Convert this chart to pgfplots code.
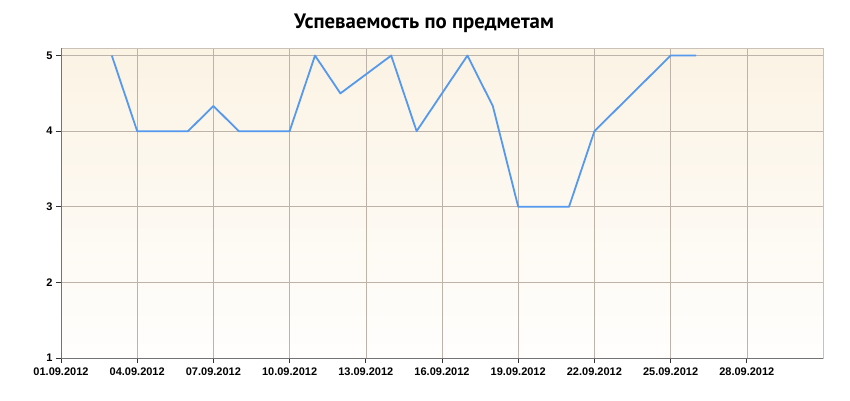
\documentclass[border=0pt]{standalone}
\usepackage{pgfplots}
\pgfplotsset{compat=1.18}
\usepackage{fontspec}
\setmainfont{Liberation Sans}
\newfontfamily\titlefont{PT Sans}
\definecolor{bgtop}{HTML}{FBF3E4}
\definecolor{bgbot}{HTML}{FFFEFD}
\definecolor{gridc}{HTML}{BDB3A8}
\definecolor{linec}{HTML}{5599EE}
\begin{document}
\begin{tikzpicture}[x=1pt,y=1pt]
\path (0,0) rectangle (850,400);
\node[font=\titlefont\bfseries\fontsize{20.8}{23}\selectfont] at (424,377) {Успеваемость по предметам};
\begin{axis}[
  at={(61pt,42pt)}, anchor=south west,
  scale only axis, width=762pt, height=310pt,
  xmin=1, xmax=31, ymin=1, ymax=5.1,
  xtick={1,4,7,10,13,16,19,22,25,28},
  xticklabels={01.09.2012,04.09.2012,07.09.2012,10.09.2012,13.09.2012,16.09.2012,19.09.2012,22.09.2012,25.09.2012,28.09.2012},
  ytick={1,2,3,4,5},
  xtick pos=bottom, ytick pos=left,
  tick align=outside, major tick length=5pt,
  tick style={draw=black!80, line width=0.8pt},
  grid=major, major grid style={draw=gridc, line width=0.6pt},
  axis line style={draw=gridc!80, line width=0.8pt},
  axis background/.style={top color=bgtop, bottom color=bgbot},
  ticklabel style={font=\bfseries\fontsize{11}{13}\selectfont},
  /pgf/number format/assume math mode=true,
  xticklabel style={yshift=-1pt},
]
\addplot[linec, line width=1.8pt, line join=round] coordinates {
(3,5) (4,4) (6,4) (7,4.333) (8,4) (10,4) (11,5) (12,4.5) (14,5) (15,4) (17,5) (18,4.333) (19,3) (21,3) (22,4) (25,5) (26,5)
};
\draw[black!55, line width=1pt] (rel axis cs:0,0) -- (rel axis cs:0,1);
\draw[black!55, line width=1pt] (rel axis cs:0,0) -- (rel axis cs:1,0);
\end{axis}
\end{tikzpicture}
\end{document}
